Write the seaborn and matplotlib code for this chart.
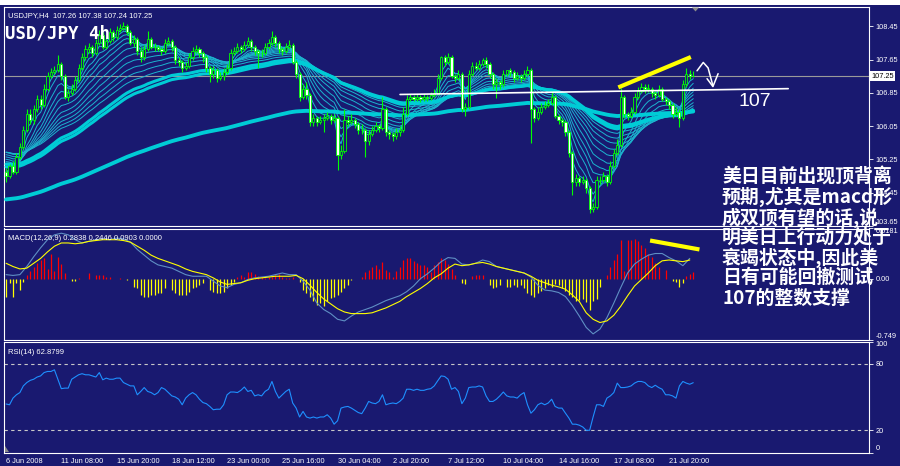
import numpy as np
import pandas as pd
import seaborn as sns
import matplotlib.pyplot as plt
from matplotlib.patches import Rectangle, Polygon
from matplotlib.transforms import blended_transform_factory

W, H = 900, 466
NAVY = '#191970'

# ---- USDJPY H4 candles ----
first_open = 104.95
closes = [
    104.85, 105.10, 104.95, 105.30, 105.55, 105.95, 106.35, 106.20, 106.45, 106.70,
    106.55, 106.95, 107.25, 107.35, 107.40, 107.55, 107.25, 106.75, 106.85, 106.95,
    107.15, 107.45, 107.70, 107.90, 107.95, 107.80, 108.05, 108.25, 107.95, 108.10,
    108.30, 108.20, 108.35, 108.40, 108.45, 108.30, 108.05, 108.15, 107.85, 107.70,
    107.90, 108.15, 107.95, 107.95, 107.90, 107.85, 108.05, 108.10, 107.95, 107.65,
    107.60, 107.45, 107.50, 107.70, 107.85, 107.90, 107.80, 107.70, 107.45, 107.30,
    107.40, 107.20, 107.25, 107.35, 107.45, 107.80, 107.85, 107.95, 107.90, 108.00,
    108.10, 107.95, 107.85, 107.80, 107.80, 107.95, 108.05, 108.20, 108.05, 107.90,
    107.85, 107.95, 108.00, 107.60, 107.30, 106.75, 106.95, 106.80, 106.15, 106.25,
    106.15, 106.20, 106.25, 106.30, 106.20, 106.25, 105.35, 105.45, 106.20, 106.15,
    106.20, 106.10, 105.95, 105.95, 105.70, 105.85, 105.95, 106.05, 106.00, 106.45,
    105.90, 105.85, 105.80, 105.90, 105.95, 106.35, 106.70, 106.75, 106.70, 106.75,
    106.70, 106.75, 106.72, 106.80, 106.85, 107.20, 107.70, 107.60, 107.70, 107.25,
    107.20, 107.30, 106.45, 106.50, 107.30, 107.50, 107.45, 107.55, 107.65, 107.55,
    107.30, 107.05, 107.10, 107.05, 107.30, 107.40, 107.35, 107.20, 107.25, 107.20,
    107.30, 107.40, 106.45, 106.25, 106.40, 106.50, 106.55, 106.60, 106.75, 106.30,
    106.20, 106.15, 105.90, 105.40, 104.70, 104.80, 104.70, 104.75, 104.55, 104.05,
    104.10, 104.75, 104.75, 104.85, 104.70, 105.10, 105.40, 105.60, 106.75, 106.35,
    106.30, 106.40, 106.75, 106.90, 107.00, 106.95, 106.95, 106.85, 106.80, 106.95,
    106.70, 106.65, 106.55, 106.35, 106.40, 106.25, 107.05, 107.30, 107.26, 107.25,
]
highs = [
    105.05, 105.15, 105.20, 105.40, 105.65, 106.05, 106.45, 106.45, 106.55, 106.80,
    106.80, 107.05, 107.35, 107.45, 107.50, 107.77, 107.60, 107.30, 106.95, 107.05,
    107.25, 107.55, 107.80, 108.00, 108.05, 108.00, 108.15, 108.35, 108.30, 108.20,
    108.40, 108.35, 108.45, 108.50, 108.55, 108.50, 108.35, 108.25, 108.20, 107.95,
    108.00, 108.33, 108.20, 108.05, 108.00, 107.95, 108.15, 108.20, 108.15, 108.00,
    107.70, 107.65, 107.60, 107.80, 107.95, 108.00, 107.95, 107.85, 107.75, 107.50,
    107.50, 107.45, 107.35, 107.45, 107.55, 107.90, 107.95, 108.05, 108.00, 108.10,
    108.20, 108.15, 108.00, 107.90, 107.90, 108.05, 108.15, 108.33, 108.25, 108.10,
    107.95, 108.05, 108.12, 108.05, 107.65, 107.35, 107.05, 107.10, 106.85, 106.35,
    106.30, 106.30, 106.35, 106.40, 106.35, 106.35, 106.30, 105.60, 106.45, 106.30,
    106.35, 106.25, 106.15, 106.10, 106.00, 105.95, 106.05, 106.15, 106.10, 106.74,
    106.50, 105.95, 105.90, 106.00, 106.05, 106.50, 106.80, 106.82, 106.80, 106.82,
    106.80, 106.82, 106.80, 106.88, 106.95, 107.30, 107.73, 107.75, 107.80, 107.75,
    107.30, 107.40, 107.35, 106.60, 107.40, 107.60, 107.58, 107.65, 107.69, 107.70,
    107.60, 107.35, 107.20, 107.15, 107.40, 107.41, 107.45, 107.40, 107.35, 107.30,
    107.40, 107.50, 107.45, 106.50, 106.50, 106.60, 106.65, 106.70, 106.89, 106.80,
    106.35, 106.25, 106.20, 105.95, 105.45, 104.90, 104.85, 104.85, 104.80, 104.60,
    104.20, 104.85, 104.85, 104.95, 104.90, 105.20, 105.50, 105.75, 106.97, 106.80,
    106.40, 106.50, 106.85, 107.00, 107.08, 107.05, 107.05, 107.00, 106.90, 107.03,
    107.00, 106.75, 106.70, 106.60, 106.50, 106.45, 107.15, 107.45, 107.40, 107.38,
]
lows = [
    104.70, 104.80, 104.90, 104.90, 105.25, 105.50, 105.90, 106.10, 106.10, 106.40,
    106.45, 106.50, 106.90, 107.20, 107.30, 107.35, 107.15, 106.70, 106.65, 106.80,
    106.90, 107.10, 107.40, 107.65, 107.80, 107.70, 107.75, 108.00, 107.90, 107.90,
    108.05, 108.10, 108.15, 108.30, 108.35, 108.25, 108.00, 107.95, 107.75, 107.60,
    107.65, 107.85, 107.90, 107.85, 107.85, 107.75, 107.80, 108.00, 107.85, 107.55,
    107.50, 107.35, 107.40, 107.45, 107.65, 107.80, 107.70, 107.60, 107.35, 107.10,
    107.20, 107.10, 107.15, 107.15, 107.30, 107.40, 107.75, 107.80, 107.80, 107.85,
    107.95, 107.85, 107.75, 107.45, 107.70, 107.75, 107.90, 108.00, 107.95, 107.80,
    107.75, 107.80, 107.90, 107.55, 107.20, 106.65, 106.70, 106.70, 106.05, 106.05,
    106.05, 106.10, 105.90, 106.20, 106.10, 106.15, 105.00, 105.25, 105.40, 106.05,
    106.10, 106.00, 105.85, 105.85, 105.31, 105.60, 105.80, 105.90, 105.90, 105.95,
    105.80, 105.75, 105.70, 105.75, 105.80, 105.90, 106.30, 106.65, 106.65, 106.65,
    106.62, 106.65, 106.65, 106.68, 106.75, 106.80, 107.15, 107.50, 107.55, 107.20,
    107.10, 107.15, 106.40, 106.29, 106.45, 107.25, 107.40, 107.40, 107.50, 107.45,
    107.20, 106.95, 106.73, 106.95, 107.00, 107.25, 107.25, 107.10, 107.15, 107.10,
    107.15, 107.25, 105.64, 106.15, 106.20, 106.35, 106.45, 106.50, 106.55, 106.25,
    106.10, 106.05, 105.80, 105.30, 104.40, 104.60, 104.60, 104.65, 104.45, 103.96,
    103.98, 104.05, 104.65, 104.70, 104.60, 104.65, 105.05, 105.35, 105.55, 106.25,
    106.20, 106.25, 106.35, 106.70, 106.85, 106.85, 106.88, 106.75, 106.70, 106.75,
    106.65, 106.55, 106.45, 106.25, 106.30, 106.04, 106.20, 107.00, 107.18, 107.24,
]

# ---- MACD(12,26,9): main / signal every 2nd bar, histogram every bar ----
macd_main = [
    0.05, 0.04, 0.05, 0.15, 0.27, 0.38, 0.48, 0.54, 0.56, 0.54,
    0.48, 0.44, 0.46, 0.48, 0.49, 0.48, 0.50, 0.49, 0.45, 0.36,
    0.29, 0.22, 0.17, 0.15, 0.13, 0.09, 0.05, 0.03, 0.03, 0.03,
    -0.03, -0.09, -0.11, -0.07, -0.05, -0.01, 0.01, 0.02, 0.03, 0.05,
    0.07, 0.05, 0.05, -0.03, -0.14, -0.30, -0.38, -0.43, -0.50, -0.52,
    -0.46, -0.41, -0.38, -0.35, -0.31, -0.27, -0.24, -0.21, -0.16, -0.09,
    0.00, 0.06, 0.13, 0.21, 0.26, 0.25, 0.18, 0.17, 0.19, 0.23,
    0.21, 0.15, 0.13, 0.11, 0.09, 0.07, 0.02, -0.08, -0.14, -0.15,
    -0.17, -0.22, -0.33, -0.46, -0.60, -0.68, -0.62, -0.48, -0.30, -0.11,
    0.07, 0.18, 0.24, 0.29, 0.31, 0.31, 0.26, 0.22, 0.16, 0.25,
]
macd_signal = [
    0.19, 0.15, 0.12, 0.13, 0.19, 0.25, 0.33, 0.40, 0.44, 0.44,
    0.43, 0.44, 0.46, 0.47, 0.48, 0.48, 0.48, 0.47, 0.45, 0.40,
    0.35, 0.29, 0.25, 0.22, 0.19, 0.16, 0.12, 0.09, 0.07, 0.05,
    0.01, -0.04, -0.07, -0.06, -0.05, -0.02, 0.00, 0.01, 0.02, 0.03,
    0.03, 0.03, 0.04, 0.00, -0.08, -0.17, -0.25, -0.31, -0.37, -0.41,
    -0.43, -0.43, -0.43, -0.42, -0.39, -0.36, -0.32, -0.28, -0.22, -0.17,
    -0.12, -0.06, 0.01, 0.06, 0.13, 0.18, 0.16, 0.17, 0.19, 0.20,
    0.18, 0.15, 0.13, 0.11, 0.09, 0.07, 0.03, -0.02, -0.05, -0.08,
    -0.10, -0.13, -0.20, -0.28, -0.42, -0.50, -0.54, -0.52, -0.45, -0.34,
    -0.21, -0.09, -0.01, 0.07, 0.16, 0.22, 0.23, 0.22, 0.21, 0.23,
]
macd_hist = [
    -0.22, -0.05, -0.22, -0.05, -0.14, -0.04, 0.05, 0.09, 0.15, 0.19,
    0.23, 0.25, 0.12, 0.30, 0.10, 0.27, 0.18, 0.07, 0.00, -0.03,
    -0.03, 0.01, 0.00, 0.00, 0.07, 0.00, 0.04, 0.04, 0.05, 0.02,
    0.02, 0.00, 0.00, 0.01, 0.00, -0.02, 0.00, -0.10, -0.12, -0.20,
    -0.22, -0.22, -0.20, -0.20, -0.18, -0.18, -0.12, 0.00, -0.14, -0.18,
    -0.20, -0.20, -0.20, -0.16, -0.12, -0.10, -0.08, -0.05, 0.00, -0.14,
    -0.16, -0.18, -0.18, -0.16, -0.12, -0.08, -0.04, 0.02, 0.04, 0.02,
    0.08, 0.08, 0.06, 0.03, 0.02, 0.01, 0.02, 0.02, 0.04, 0.06,
    0.02, 0.01, 0.01, 0.02, 0.00, -0.04, -0.14, -0.18, -0.22, -0.28,
    -0.32, -0.30, -0.34, -0.28, -0.24, -0.22, -0.20, -0.16, -0.12, -0.08,
    -0.02, 0.00, 0.00, 0.02, 0.08, 0.11, 0.14, 0.17, 0.12, 0.21,
    0.11, 0.08, 0.02, 0.10, 0.15, 0.23, 0.25, 0.25, 0.22, 0.19,
    0.17, 0.17, 0.15, 0.08, 0.17, 0.21, 0.25, 0.23, 0.18, 0.12,
    0.05, 0.00, -0.05, -0.06, 0.00, 0.03, 0.04, 0.05, 0.04, 0.00,
    -0.08, -0.12, -0.10, -0.08, 0.00, -0.10, -0.10, -0.08, -0.10, -0.08,
    -0.12, -0.18, -0.20, -0.22, -0.18, -0.15, -0.12, -0.08, -0.10, -0.06,
    -0.08, -0.12, -0.15, -0.20, -0.22, -0.27, -0.26, -0.25, -0.29, -0.38,
    -0.28, -0.25, -0.10, 0.00, 0.05, 0.15, 0.23, 0.31, 0.48, 0.10,
    0.48, 0.48, 0.49, 0.46, 0.42, 0.38, 0.31, 0.27, 0.19, 0.15,
    0.00, 0.11, 0.00, -0.03, -0.04, -0.10, -0.05, 0.03, 0.06, 0.08,
]

# ---- RSI(14), one value per bar ----
rsi = [
    43.7, 43, 49, 52, 54, 60, 63, 65, 66, 68, 69, 72, 73,
    73, 74.5, 66, 57.5, 58, 58, 66, 68, 70, 71, 70, 70, 69, 68, 72, 65.5, 67, 66,
    66, 67, 67, 63, 61.5, 60, 60, 52, 55, 58.5, 55, 54, 52, 54, 58.5, 57, 54, 51,
    50, 48, 43, 49, 52, 54,
    52, 48, 45, 44, 41.5, 38.5, 39, 39, 43, 52, 54.5, 54.5, 54, 56, 59, 55, 56, 51,
    52, 51, 55, 57, 64, 55, 49, 52, 55, 57, 44.6, 40, 32, 37, 32, 31, 32, 31, 32,
    32, 34, 31, 25.5, 28.6, 40, 41,
    41.5, 40, 38, 36,
    35, 40, 46, 44.6, 44, 46, 52, 43, 44, 44.6, 44, 46, 49, 57, 57,
    56, 57, 56, 56, 57, 57.5, 60, 64.6, 69, 68.5, 66, 57, 58.5, 55, 44, 49, 58.5, 59,
    59, 60, 59, 51, 46, 46, 48, 51, 54.5, 51, 50, 50, 49, 52, 54, 43, 35.4, 38.5,
    43, 44.6, 43, 44.6, 48, 41.5, 40, 40, 35.4, 31, 25.5,
    25.5, 24.6, 23, 20, 20, 32, 43, 43, 41.5, 49, 51, 54, 62.5, 58.5, 58.5, 59, 60,
    62.5, 64, 64, 63, 60, 58.5, 60.6, 58.5, 57, 52, 52, 51, 49, 60, 64, 62.5, 61.5,
    62.88,
]

time_labels = ["6 Jun 2008", "11 Jun 08:00", "15 Jun 20:00", "18 Jun 12:00",
               "23 Jun 00:00", "25 Jun 16:00", "30 Jun 04:00", "2 Jul 20:00",
               "7 Jul 12:00", "10 Jul 04:00", "14 Jul 16:00", "17 Jul 08:00",
               "21 Jul 20:00"]
price_ticks = [103.65, 104.45, 105.25, 106.05, 106.85, 107.65, 108.45]

# moving average ribbons: periods and their level at the first bar
thin_periods = [3, 5, 8, 11, 14, 18, 23, 28, 34, 40, 47]
thin_starts = [104.95, 105.00, 105.10, 105.20, 105.25, 105.30, 105.35, 105.40, 105.45, 105.45, 105.45]
thick_periods = [55, 60]
thick_starts = [105.15, 105.08]
slow_period, slow_start = 169, 104.28

# hand drawn marks on the chart (bar index, price / macd value)
rise_line = [(177.3, 106.98), (198.3, 107.71)]
support_line = [(114.1, 106.81), (226.5, 106.95)]
macd_fall_line = [(186.5, 0.47), (200.8, 0.36)]
arrow_path = [(200.1, 107.38), (201.9, 107.58), (203.3, 107.45), (204.7, 107.02)]
arrow_head = [(203.0, 107.19), (204.7, 107.00), (206.2, 107.31)]

note_lines = ["美日目前出现顶背离", "预期,尤其是macd形", "成双顶有望的话,说",
              "明美日上行动力处于", "衰竭状态中,因此美", "日有可能回撤测试",
              "107的整数支撑"]


def ema(values, period, start):
    alpha = 2.0 / (period + 1)
    level, out = start, []
    for v in values:
        level += alpha * (v - level)
        out.append(level)
    return np.array(out)


sns.set_style("dark", {"axes.facecolor": NAVY, "figure.facecolor": NAVY})
plt.rcParams['font.family'] = ['Liberation Sans', 'DejaVu Sans']

bars = np.arange(len(closes))
c = np.array(closes)
o = np.array([first_open] + closes[:-1])
df = pd.DataFrame({'bar': bars, 'open': o, 'close': c,
                   'high': highs, 'low': lows, 'rsi': rsi, 'hist': macd_hist})

fig = plt.figure(figsize=(W / 100, H / 100), dpi=100)
fig.patch.set_facecolor(NAVY)


def px_axes(top, bottom):
    return fig.add_axes([4 / W, 1 - bottom / H, 865 / W, (bottom - top) / H])


ax = px_axes(6.5, 226)
ax2 = px_axes(228.5, 339.5)
ax3 = px_axes(341.5, 452.5)
for a in (ax, ax2, ax3):
    a.set_facecolor(NAVY)
    a.set_xlim(-0.6, 249.9)
    for s in a.spines.values():
        s.set_color('white')
        s.set_linewidth(0.8)
    a.yaxis.tick_right()
    a.tick_params(axis='y', colors='white', labelsize=5.3, length=3, width=0.6, pad=1.5)
    a.grid(False)

# ---- main price panel ----
ax.set_ylim(103.648, 108.925)
ax.axhline(107.25, color='#9a9a9a', lw=0.8, zorder=1)
for p, s0 in zip(thin_periods, thin_starts):
    sns.lineplot(x=bars, y=ema(closes, p, s0), ax=ax, color='#1cb4cf', lw=0.7, zorder=2)
for p, s0 in zip(thick_periods, thick_starts):
    sns.lineplot(x=bars, y=ema(closes, p, s0), ax=ax, color='#00ccd6', lw=2.2, zorder=3)
sns.lineplot(x=bars, y=ema(closes, slow_period, slow_start), ax=ax, color='#00ccd6', lw=2.8, zorder=3)

up = df['close'] >= df['open']
ax.vlines(df['bar'], df['low'], df['high'], color='#00ff00', lw=0.8, zorder=4)
body = (df['close'] - df['open']).abs().clip(lower=0.012)
ax.bar(df['bar'], body, bottom=df[['open', 'close']].min(axis=1), width=0.62,
       color=np.where(up, NAVY, 'white'), edgecolor='#00ff00', linewidth=0.6, zorder=5)

ax.plot(*zip(*rise_line), color='#ffff00', lw=3, solid_capstyle='butt', zorder=6)
ax.plot(*zip(*support_line), color='white', lw=1.2, zorder=6)
ax.plot(*zip(*arrow_path), color='white', lw=1.1, zorder=6)
ax.plot(*zip(*arrow_head), color='white', lw=1.1, zorder=6)
ax.text(212, 106.64, '107', color='white', fontsize=14, va='center', ha='left', zorder=7)

ax.set_xticks([])
ax.set_yticks(price_ticks)
ax.set_yticklabels([f"{t:.2f}" for t in price_ticks])
ax.get_yticklabels()[0].set_va('bottom')
ax.set_ylabel('')
tr = blended_transform_factory(ax.transAxes, ax.transData)
ax.text(1.0025, 107.25, '107.25', transform=tr, color='black', fontsize=5.3, va='center',
        ha='left', bbox=dict(boxstyle='square,pad=0.2', fc='white', ec='none'), clip_on=False)

# ---- MACD panel ----
ax2.set_ylim(-0.749, 0.6181)
hist_colors = np.where(df['hist'] > 0, '#ff0000', '#ffff00')
ax2.vlines(df['bar'], 0, df['hist'], colors=hist_colors, lw=0.9, zorder=2)
macd_x = np.arange(0, len(closes), 2)
sns.lineplot(x=macd_x, y=macd_main, ax=ax2, color='#5f8fc4', lw=0.8, zorder=3)
sns.lineplot(x=macd_x, y=macd_signal, ax=ax2, color='#ffff00', lw=0.8, zorder=4)
ax2.plot(*zip(*macd_fall_line), color='#ffff00', lw=3, solid_capstyle='butt', zorder=6)
ax2.set_xticks([])
ax2.set_yticks([-0.749, 0, 0.6181])
ax2.set_yticklabels(['-0.749', '0.00', '0.6181'])
ax2.get_yticklabels()[0].set_va('bottom')
ax2.get_yticklabels()[2].set_va('top')
ax2.set_ylabel('')

# ---- RSI panel ----
ax3.set_ylim(0, 100)
for lvl in (20, 80):
    ax3.axhline(lvl, color='#c8c8c8', lw=0.8, ls=(0, (3, 3)), zorder=1)
sns.lineplot(data=df, x='bar', y='rsi', ax=ax3, color='#1e90ff', lw=0.8, zorder=3)
ax3.set_yticks([0, 20, 80, 100])
ax3.set_yticklabels(['0', '20', '80', '100'])
ax3.get_yticklabels()[0].set_va('bottom')
ax3.get_yticklabels()[3].set_va('top')
ax3.set_xticks(list(range(0, 16 * len(time_labels), 16)))
ax3.set_xticklabels(time_labels, ha='left')
ax3.tick_params(axis='x', colors='white', labelsize=5.3, length=3.5, width=0.6, pad=0.5)
ax3.set_xlabel('')
ax3.set_ylabel('')

# ---- texts and window decorations ----
fig.patches.append(Rectangle((0, 1 - 5 / H), 1, 5 / H, transform=fig.transFigure,
                             fc='white', ec='none', zorder=0))
fig.patches.append(Polygon([(692 / W, 1 - 7.5 / H), (699 / W, 1 - 7.5 / H), (695.5 / W, 1 - 11.5 / H)],
                           closed=True, transform=fig.transFigure, fc='#8a8a8a', ec='none'))
fig.patches.append(Polygon([(5 / W, 1 - 446 / H), (5 / W, 1 - 452 / H), (9 / W, 1 - 452 / H)],
                           closed=True, transform=fig.transFigure, fc='#8a8a8a', ec='none'))

fig.text(8 / W, 1 - 15.5 / H, 'USDJPY,H4  107.26 107.38 107.24 107.25', color='white',
         fontsize=5.5, va='center')
fig.text(5 / W, 1 - 34 / H, 'USD/JPY 4h', color='white', fontsize=12.5,
         family='DejaVu Sans Mono', weight='bold', va='center')
fig.text(8 / W, 1 - 238 / H, 'MACD(12,26,9) 0.2838 0.2446 0.0903 0.0000', color='white',
         fontsize=5.5, va='center')
fig.text(8 / W, 1 - 352 / H, 'RSI(14) 62.8799', color='white', fontsize=5.5, va='center')

for k, line in enumerate(note_lines):
    fig.text(722 / W, 1 - (177 + 20.15 * k) / H, line, color='white', fontsize=13.6,
             family=['Noto Sans CJK SC', 'DejaVu Sans'], weight='bold', va='center', zorder=10)

fig.savefig('out.png', dpi=100, facecolor=NAVY)
